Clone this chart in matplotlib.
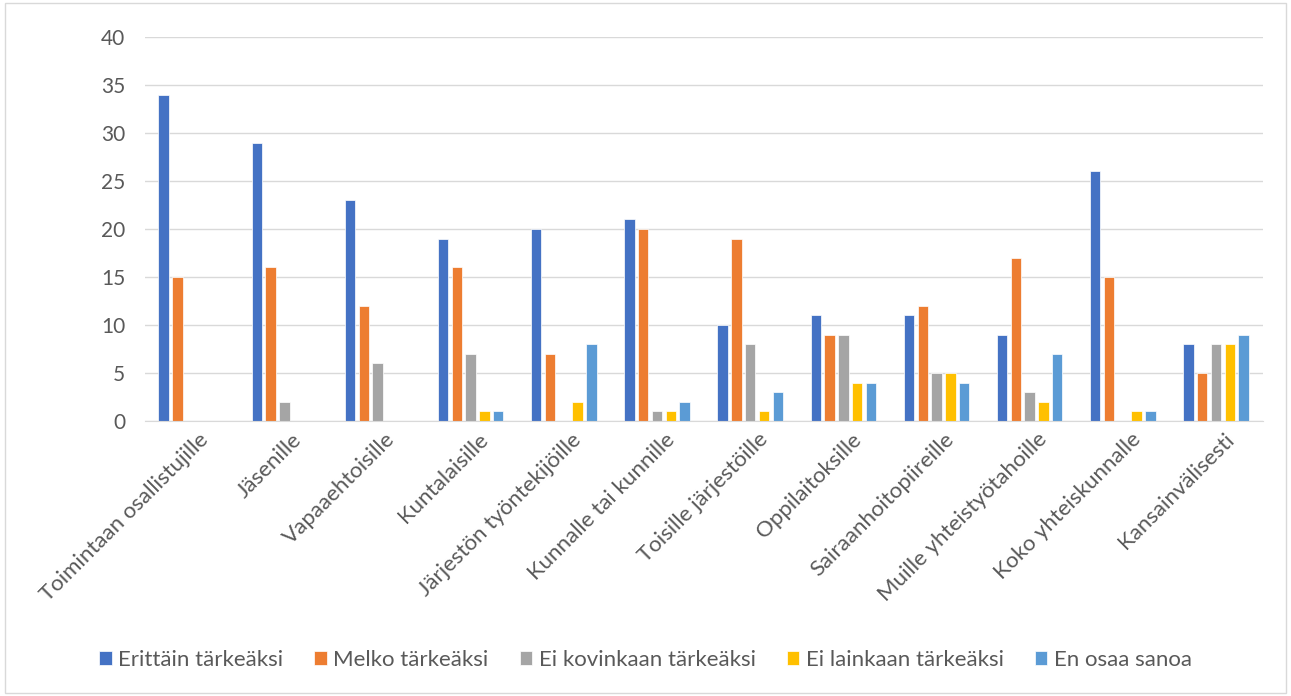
import matplotlib
matplotlib.use("Agg")
import matplotlib.pyplot as plt
import numpy as np
from matplotlib.patches import Rectangle

plt.rcParams['font.family'] = ['Lato', 'DejaVu Sans']

categories = ["Toimintaan osallistujille", "Jäsenille", "Vapaaehtoisille", "Kuntalaisille",
              "Järjestön työntekijöille", "Kunnalle tai kunnille", "Toisille järjestöille",
              "Oppilaitoksille", "Sairaanhoitopiireille", "Muille yhteistyötahoille",
              "Koko yhteiskunnalle", "Kansainvälisesti"]
series_names = ["Erittäin tärkeäksi", "Melko tärkeäksi", "Ei kovinkaan tärkeäksi",
                "Ei lainkaan tärkeäksi", "En osaa sanoa"]
erittain = [34, 29, 23, 19, 20, 21, 10, 11, 11, 9, 26, 8]
melko = [15, 16, 12, 16, 7, 20, 19, 9, 12, 17, 15, 5]
ei_kovinkaan = [0, 2, 6, 7, 0, 1, 8, 9, 5, 3, 0, 8]
ei_lainkaan = [0, 0, 0, 1, 2, 1, 1, 4, 5, 2, 1, 8]
en_osaa = [0, 0, 0, 1, 8, 2, 3, 4, 4, 7, 1, 9]
colors = ["#4472C4", "#ED7D31", "#A5A5A5", "#FFC000", "#5B9BD5"]

data = [erittain, melko, ei_kovinkaan, ei_lainkaan, en_osaa]

fig = plt.figure(figsize=(12.91, 6.96), dpi=100)
ax = fig.add_axes([0.112, 0.395, 0.866, 0.552])

x = np.arange(len(categories))
pitch = 0.148
width = 0.112
for i, (vals, name, c) in enumerate(zip(data, series_names, colors)):
    ax.bar(x + (i - 2) * pitch, vals, width, color=c, label=name,
           edgecolor="white", linewidth=0.5)

ax.set_xlim(-0.5, len(categories) - 0.5)
ax.set_ylim(0, 40)
ax.set_yticks(range(0, 41, 5))
ax.yaxis.grid(True, color="#d9d9d9", linewidth=1)
ax.set_axisbelow(True)
for s in ["left", "right", "top"]:
    ax.spines[s].set_visible(False)
ax.spines["bottom"].set_color("#d9d9d9")
ax.tick_params(axis="both", length=0, colors="#595959")
ax.tick_params(axis="y", pad=14, labelsize=15)
ax.tick_params(axis="x", pad=6, labelsize=16)
ax.set_xticks(x + 0.08)
ax.set_xticklabels(categories, rotation=45, ha="right", rotation_mode="anchor")

fig.legend(loc="center", bbox_to_anchor=(0.5, 0.052), ncol=5, frameon=False,
           fontsize=16, handlelength=0.55, handleheight=0.55, columnspacing=1.4,
           handletextpad=0.3, labelcolor="#595959")

fig.patches.append(Rectangle((0.004, 0.004), 0.992, 0.992, transform=fig.transFigure,
                             fill=False, edgecolor="#d9d9d9", linewidth=1))

fig.savefig("out.png", dpi=100)
